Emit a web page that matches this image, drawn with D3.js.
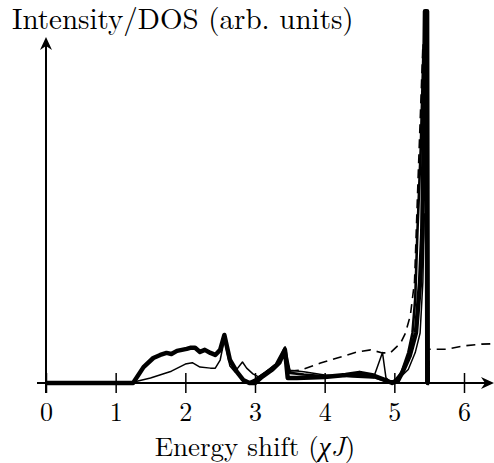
<!DOCTYPE html>
<html lang="en">
    <head>
        <meta charset="utf-8">
        <title>Intensity / DOS</title>
        <script src="https://d3js.org/d3.v7.min.js"></script>
        <style>
            body { margin: 0; background: #fff; }
        </style>
    </head>
    <body>
        <script>
            // values: [energy shift, intensity]
            const thickCurve = [[0,0],[1.25,0],[1.4,0.047],[1.54,0.074],[1.64,0.083],[1.73,0.089],[1.8,0.086],[1.88,0.095],
                [1.95,0.098],[2.02,0.101],[2.07,0.104],[2.14,0.104],[2.21,0.092],[2.28,0.098],[2.36,0.089],[2.43,0.083],
                [2.5,0.098],[2.56,0.142],[2.64,0.068],[2.74,0.033],[2.83,0.009],[2.92,0],[3.0,0],[3.1,0.018],[3.25,0.04],
                [3.35,0.06],[3.43,0.098],[3.47,0.015],[3.6,0.015],[4.0,0.018],[4.3,0.024],[4.5,0.03],[4.7,0.022],
                [4.85,0.01],[4.97,0],[5.05,0.006],[5.13,0.038],[5.22,0.08],[5.31,0.148],[5.37,0.3],[5.40,0.44],
                [5.42,0.7],[5.44,1.1],[5.47,1.1],[5.48,0],[5.5,0]];
            const mediumCurve = [[2.9,0],[3.0,0.01],[3.15,0.03],[3.3,0.055],[3.43,0.105],[3.5,0.03],[3.7,0.025],
                [4.0,0.02],[4.4,0.022],[4.7,0.018],[4.9,0.005],[5.0,0.005],[5.1,0.03],[5.2,0.09],[5.26,0.148],
                [5.3,0.25],[5.33,0.44],[5.38,0.7],[5.42,1.0],[5.45,1.0],[5.46,0]];
            const thinCurve = [[1.2,0],[1.5,0.015],[1.8,0.035],[2.0,0.056],[2.1,0.06],[2.21,0.047],[2.36,0.044],
                [2.43,0.044],[2.5,0.068],[2.56,0.128],[2.64,0.05],[2.71,0.033],[2.82,0.062],[2.88,0.044],[2.97,0.027],
                [3.05,0.018],[3.2,0.04],[3.35,0.065],[3.43,0.09],[3.5,0.038],[3.7,0.033],[4.0,0.024],[4.4,0.018],
                [4.7,0.015],[4.83,0.09],[4.88,0.015],[4.95,0.003],[5.1,0.02],[5.2,0.04],[5.3,0.09],[5.37,0.148],
                [5.41,0.3],[5.43,0.5],[5.45,0.5],[5.46,0]];
            const dashedCurve = [[3.5,0.035],[3.65,0.038],[3.94,0.059],[4.18,0.074],[4.47,0.092],[4.66,0.098],
                [4.83,0.089],[4.94,0.089],[5.09,0.118],[5.16,0.148],[5.23,0.2],[5.29,0.3],[5.34,0.6],[5.41,1.0],
                [5.45,1.0],[5.47,0.1],[5.55,0.1],[5.75,0.1],[6.0,0.11],[6.25,0.115],[6.55,0.117]];
            const xTicks = [0, 1, 2, 3, 4, 5, 6];

            const w = 494;
            const h = 463;
            const serif = "'Latin Modern Roman'";

            const svg = d3.select('body')
                          .append('svg')
                          .attr('width', w)
                          .attr('height', h)

            const x = d3.scaleLinear().domain([0, 6]).range([46, 464])
            const y = d3.scaleLinear().domain([0, 1]).range([383, 45])

            // ticks cross the axis line
            const xAxis = d3.axisBottom(x)
                            .tickValues(xTicks)
                            .tickSize(20)
                            .tickPadding(10)
                            .tickFormat(d3.format('d'))
            const gx = svg.append('g')
                          .attr('transform', 'translate(0,' + (y(0) - 10) + ')')
                          .call(xAxis)
            gx.select('.domain').remove()
            gx.attr('font-family', serif).attr('font-size', 26)
            gx.selectAll('.tick line').attr('stroke', '#000').attr('stroke-width', 1.5)
            gx.selectAll('.tick text').attr('fill', '#000')

            // axis lines with arrow heads
            svg.append('line')
               .attr('x1', 37).attr('y1', y(0))
               .attr('x2', 488).attr('y2', y(0))
               .attr('stroke', '#000').attr('stroke-width', 2)
            svg.append('path')
               .attr('d', `M494,${y(0)} L481,${y(0) - 6} L485,${y(0)} L481,${y(0) + 6} Z`)
               .attr('fill', '#000')
            svg.append('line')
               .attr('x1', x(0)).attr('y1', 393)
               .attr('x2', x(0)).attr('y2', 43)
               .attr('stroke', '#000').attr('stroke-width', 2)
            svg.append('path')
               .attr('d', `M${x(0)},37 L${x(0) - 6},50 L${x(0)},46 L${x(0) + 6},50 Z`)
               .attr('fill', '#000')

            const line = d3.line()
                           .x(d => x(d[0]))
                           .y(d => y(d[1]))

            svg.append('path')
               .datum(dashedCurve)
               .attr('d', line)
               .attr('fill', 'none')
               .attr('stroke', '#000')
               .attr('stroke-width', 1.6)
               .attr('stroke-dasharray', '9,6')
            svg.append('path')
               .datum(thinCurve)
               .attr('d', line)
               .attr('fill', 'none')
               .attr('stroke', '#000')
               .attr('stroke-width', 1.5)
               .attr('stroke-linejoin', 'round')
            svg.append('path')
               .datum(mediumCurve)
               .attr('d', line)
               .attr('fill', 'none')
               .attr('stroke', '#000')
               .attr('stroke-width', 2.6)
               .attr('stroke-linejoin', 'round')
            svg.append('path')
               .datum(thickCurve)
               .attr('d', line)
               .attr('fill', 'none')
               .attr('stroke', '#000')
               .attr('stroke-width', 4.5)
               .attr('stroke-linejoin', 'round')

            svg.append('text')
               .text('Intensity/DOS (arb. units)')
               .attr('x', 12)
               .attr('y', 29)
               .attr('font-family', serif)
               .attr('font-size', 29)
            svg.append('text')
               .attr('x', x(3))
               .attr('y', 456)
               .attr('text-anchor', 'middle')
               .attr('font-family', serif)
               .attr('font-size', 27)
               .html('Energy shift (<tspan font-style="italic">χJ</tspan>)')
        </script>
    </body>
</html>
